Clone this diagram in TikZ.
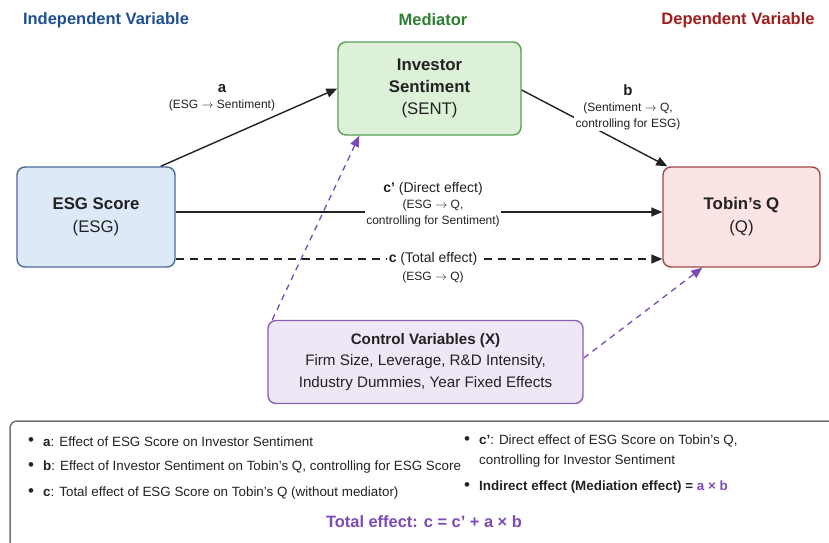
\documentclass[tikz,border=0pt]{standalone}
\usepackage{fontspec}
\setmainfont{Liberation Sans}
\usetikzlibrary{arrows.meta,positioning,calc}
\definecolor{IndBlue}{HTML}{1F4E91}
\definecolor{MedGreen}{HTML}{2E7D32}
\definecolor{DepRed}{HTML}{A11D1D}
\definecolor{LGreen}{HTML}{DCF1D7}
\definecolor{DGreen}{HTML}{5B9E57}
\definecolor{LBlue}{HTML}{DEE9F7}
\definecolor{DBlue}{HTML}{4A6A98}
\definecolor{LRed}{HTML}{FCE4E4}
\definecolor{DRed}{HTML}{A54646}
\definecolor{LPurple}{HTML}{EFE7F6}
\definecolor{DPurple}{HTML}{8A62B3}
\definecolor{Purple}{HTML}{7B4BB5}
\definecolor{Frame}{HTML}{707070}
\definecolor{Ink}{HTML}{222222}
\newcommand{\Px}[2]{\fontsize{#1}{#2}\selectfont}
\newcommand{\To}{~$\rightarrow$~}

\begin{document}
\begin{tikzpicture}[x=1pt, y=-1pt,
    box/.style={draw, line width=1.4pt, rounded corners=8pt, align=center, inner sep=0pt, text=Ink},
    link/.style={Ink, line width=1.4pt, -{Triangle[length=11pt, width=9pt]}},
    ctrllink/.style={Purple, line width=1.3pt, dash pattern=on 6pt off 5pt, -{Triangle[length=11pt, width=9pt]}},
    tag/.style={fill=white, inner sep=1.5pt, align=center, text=Ink, font=\Px{12}{16}},
    head/.style={font=\Px{16.5}{19}\bfseries},
    dot/.style={text=Ink, font=\Px{17}{16}, inner sep=0pt},
    note/.style={anchor=west, text=Ink, font=\Px{13.4}{20}, inner sep=0pt}]

\useasboundingbox (0,0) rectangle (829,542);

% column headers
\node[head, text=IndBlue] (head-ind) at (106,20) {Independent Variable};
\node[head, text=MedGreen] (head-med) at (433,20) {Mediator};
\node[head, text=DepRed] (head-dep) at (738,20) {Dependent Variable};

% variables
\node[box, draw=DGreen, fill=LGreen, minimum width=183pt, minimum height=93pt, font=\Px{16.8}{22}]
    (sent) at (429.5,88.5) {\textbf{Investor}\\\textbf{Sentiment}\\(SENT)};
\node[box, draw=DBlue, fill=LBlue, minimum width=158pt, minimum height=100pt, font=\Px{16.8}{23}]
    (esg) at (96,217) {\textbf{ESG Score}\\(ESG)};
\node[box, draw=DRed, fill=LRed, minimum width=157pt, minimum height=100pt, font=\Px{16.8}{23}]
    (tobin) at (741.5,217) {\textbf{Tobin’s Q}\\(Q)};
\node[box, draw=DPurple, fill=LPurple, minimum width=315pt, minimum height=83pt, font=\Px{15.2}{21.5}]
    (ctrl) at (425.5,362) {\textbf{Control Variables (X)}\\Firm Size, Leverage, R\&D Intensity,\\Industry Dummies, Year Fixed Effects};

% paths
\draw[link] ([xshift=-15pt]esg.north east) -- (sent.west);
\draw[link] (sent.east |- 0,90) -- ([xshift=5pt]tobin.north west);
\draw[link] (esg.east |- 0,212) -- (tobin.west |- 0,212);
\draw[link, dash pattern=on 8pt off 6pt] (esg.east |- 0,259) -- (tobin.west |- 0,259);

\node[tag] (tag-a) at (222,98) {{\Px{15}{18}\bfseries a}\\(ESG\To Sentiment)};
\node[tag] (tag-b) at (628,107) {{\Px{15}{18}\bfseries b}\\(Sentiment\To Q,\\controlling for ESG)};
\node[tag] (tag-cp) at (433,205) {{\Px{14}{17}\textbf{c’} (Direct effect)}\\(ESG\To Q,\\controlling for Sentiment)};
\node[tag] (tag-c) at (433,268) {{\Px{14}{17}\textbf{c} (Total effect)}\\[2pt](ESG\To Q)};

\draw[ctrllink] ([xshift=5pt]ctrl.north west) -- ([xshift=22pt]sent.south west);
\draw[ctrllink] ([yshift=4pt]ctrl.east) -- ([xshift=40pt]tobin.south west);

% legend
\draw[Frame, line width=1.5pt, rounded corners=7pt] (10,421) rectangle (850,570);
\foreach \key/\ypos/\body in {a/442/{Effect of ESG Score on Investor Sentiment},
    b/467/{Effect of Investor Sentiment on Tobin’s Q, controlling for ESG Score},
    c/493/{Total effect of ESG Score on Tobin’s Q (without mediator)}}{
    \node[dot] (dot-\key) at (31,\ypos) {\textbullet};
    \node[note] (def-\key) at (43,\ypos) {\textbf{\key}: \body};
}
\node[dot] (dot-cp) at (467,441) {\textbullet};
\node[note, align=left] (def-cp) at (479,451) {\textbf{c’}: Direct effect of ESG Score on Tobin’s Q,\\controlling for Investor Sentiment};
\node[dot] (dot-ind) at (467,487) {\textbullet};
\node[note] (def-ind) at (479,487) {\textbf{Indirect effect (Mediation effect) = \textcolor{Purple}{a × b}}};
\node[font=\Px{16.4}{20}\bfseries, text=Purple] (total) at (424,522) {Total effect: c = c’ + a × b};

\end{tikzpicture}
\end{document}
